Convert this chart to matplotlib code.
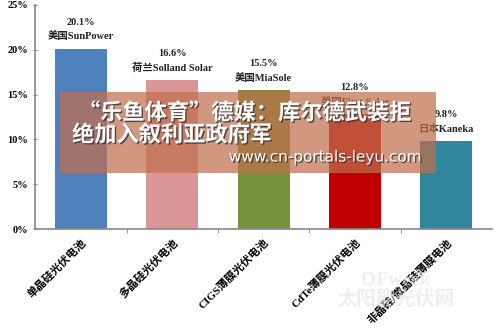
import matplotlib.pyplot as plt
import matplotlib.patheffects as pe
from matplotlib.patches import Rectangle

# data
categories = ["单晶硅光伏电池", "多晶硅光伏电池", "CIGS薄膜光伏电池",
              "CdTe薄膜光伏电池", "非晶硅/微晶硅薄膜电池"]
values = [20.1, 16.6, 15.5, 12.8, 9.8]
companies = ["美国SunPower", "荷兰Solland Solar", "美国MiaSole",
             "美国First Solar", "日本Kaneka"]
colors = ["#4F81BD", "#D99694", "#77933C", "#C00000", "#31859C"]
yticks = [0, 5, 10, 15, 20, 25]

fam = ["Liberation Serif", "Noto Sans CJK SC"]
plt.rcParams['font.family'] = fam

fig = plt.figure(figsize=(4.95, 3.3), dpi=100)
ax = fig.add_axes([0.071, 0.306, 0.923, 0.679])

x = range(len(categories))
ax.bar(x, values, width=0.57, color=colors)

for i, (v, c) in enumerate(zip(values, companies)):
    ax.annotate(f"{v}%", (i, v), xytext=(0, 19), textcoords="offset points",
                ha="center", va="center", fontsize=7.5, fontweight="bold", color="#222222")
    ax.annotate(c, (i, v), xytext=(0, 9), textcoords="offset points",
                ha="center", va="center", fontsize=7.5, fontweight="bold", color="#222222")

ax.set_xlim(-0.5, len(categories) - 0.5)
ax.set_ylim(0, 25)
ax.set_yticks(yticks)
ax.set_yticklabels([f"{t}%" for t in yticks], fontsize=7.5, fontweight="bold")
ax.set_xticks([i + 0.5 for i in range(len(categories) - 1)], minor=True)
ax.set_xticks(list(x))
ax.set_xticklabels(categories, rotation=45, ha="right", rotation_mode="anchor",
                   fontsize=8, fontweight="bold")
ax.tick_params(axis="x", which="major", length=0, pad=6)
ax.tick_params(axis="x", which="minor", length=3, direction="out", color="#888888")
ax.tick_params(axis="y", length=3, direction="inout", color="#888888")
for s in ["top", "right"]:
    ax.spines[s].set_visible(False)
for s in ["left", "bottom"]:
    ax.spines[s].set_color("#888888")
    ax.spines[s].set_linewidth(1.2)

# faint watermark
fig.text(0.80, 0.12, "OFweek\n太阳能光伏网", ha="center", va="center", fontsize=14,
         fontweight="bold", color="#e4e4e4", alpha=0.6, linespacing=1.0, zorder=5)

# overlay banner
fig.patches.append(Rectangle((60 / 495, 1 - 173 / 330), 376 / 495, 81 / 330,
                             transform=fig.transFigure, facecolor="#c06f4e",
                             alpha=0.72, edgecolor="none", zorder=10))
shadow = [pe.withSimplePatchShadow(offset=(1, -1), shadow_rgbFace="#333333", alpha=0.8)]
fig.text(78 / 495, 1 - 113 / 330, "“乐鱼体育”德媒：库尔德武装拒", fontsize=16,
         fontweight="bold", color="white", va="center", ha="left",
         family="Noto Sans CJK SC", zorder=11, path_effects=shadow)
fig.text(72 / 495, 1 - 135 / 330, "绝加入叙利亚政府军", fontsize=16,
         fontweight="bold", color="white", va="center", ha="left",
         family="Noto Sans CJK SC", zorder=11, path_effects=shadow)
fig.text(422 / 495, 1 - 157 / 330, "www.cn-portals-leyu.com", fontsize=11,
         color="white", va="center", ha="right", family="DejaVu Sans",
         zorder=11, path_effects=shadow)

fig.savefig("out.png", dpi=100)
